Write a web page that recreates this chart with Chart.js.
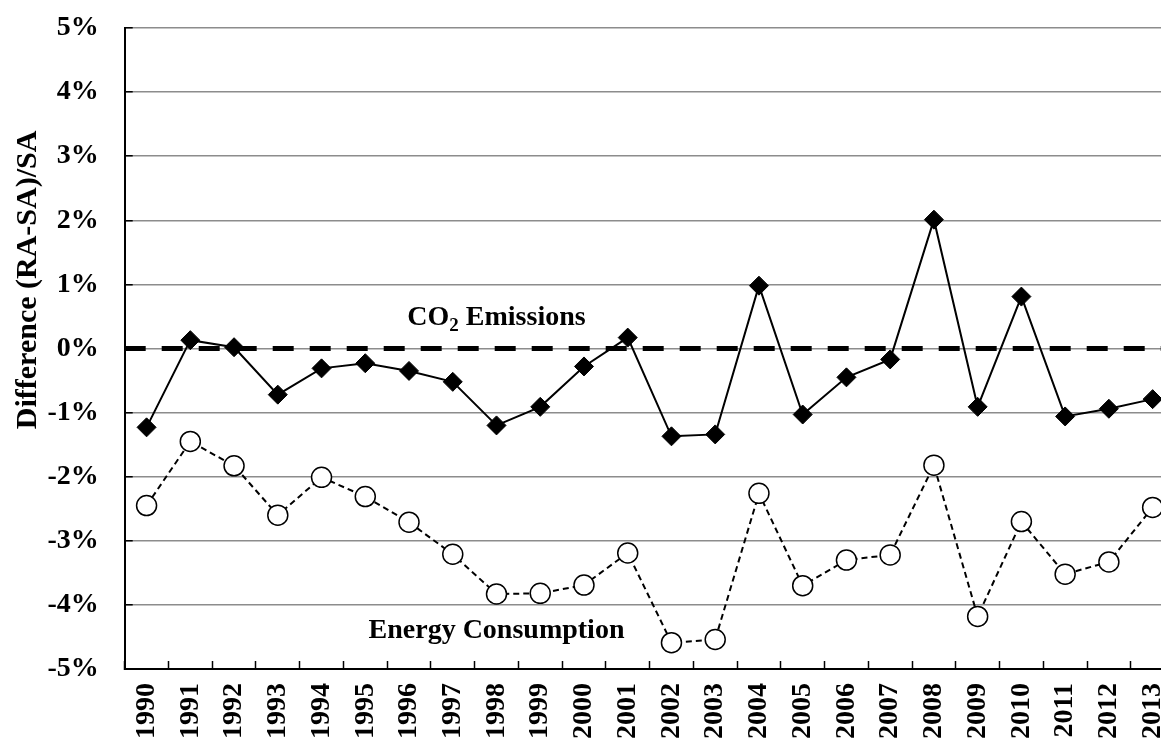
<!DOCTYPE html>
<html>
<head>
<meta charset="utf-8">
<script src="https://cdn.jsdelivr.net/npm/chart.js@4.4.1/dist/chart.umd.min.js"></script>
<style>
  html, body { margin: 0; padding: 0; background: #fff; overflow: hidden; }
  #wrap { width: 1186px; height: 742px; }
</style>
</head>
<body>
<div id="wrap"><canvas id="chart" width="1186" height="742"></canvas></div>
<script>
const years = ['1990', '1991', '1992', '1993', '1994', '1995', '1996', '1997', '1998', '1999', '2000', '2001',
               '2002', '2003', '2004', '2005', '2006', '2007', '2008', '2009', '2010', '2011', '2012', '2013'];

// (RA-SA)/SA in percent
const co2Diff = [-1.23, 0.13, 0.02, -0.72, -0.31, -0.23, -0.35, -0.52, -1.20, -0.91, -0.28, 0.17,
                 -1.37, -1.34, 0.98, -1.03, -0.45, -0.17, 2.01, -0.91, 0.81, -1.06, -0.94, -0.79];
const energyDiff = [-2.45, -1.45, -1.83, -2.60, -2.01, -2.31, -2.71, -3.21, -3.83, -3.82, -3.69, -3.19,
                    -4.59, -4.54, -2.26, -3.70, -3.30, -3.22, -1.82, -4.18, -2.70, -3.52, -3.33, -2.48];
const zeroLine = [{ x: 0, y: 0 }, { x: 1, y: 0 }];

const yMin = -5;
const yMax = 5;
const yTitle = 'Difference (RA-SA)/SA';

const FONT = "'Liberation Serif', 'Times New Roman', serif";

// axis title and inline labels for the two series
const chartTexts = {
    id: 'chartTexts',
    afterDatasetsDraw(chart) {
        const ctx = chart.ctx;
        const xs = chart.scales.x;
        const ys = chart.scales.y;
        ctx.save();
        ctx.fillStyle = '#000';
        ctx.textBaseline = 'middle';

        // y axis title, placed a little above the middle of the axis
        ctx.save();
        ctx.translate(28, ys.getPixelForValue(1.07));
        ctx.rotate(-Math.PI / 2);
        ctx.textAlign = 'center';
        ctx.font = 'bold 30px ' + FONT;
        ctx.fillText(yTitle, 0, 0);
        ctx.restore();

        // CO2 Emissions with subscript
        ctx.textAlign = 'left';
        const big = 'bold 28px ' + FONT;
        const small = 'bold 19px ' + FONT;
        ctx.font = big;
        const wCO = ctx.measureText('CO').width;
        const wRest = ctx.measureText(' Emissions').width;
        ctx.font = small;
        const w2 = ctx.measureText('2').width;
        const cx = xs.getPixelForValue(8);
        const cy = ys.getPixelForValue(0.48);
        const x0 = cx - (wCO + w2 + wRest) / 2;
        ctx.font = big;
        ctx.fillText('CO', x0, cy);
        ctx.font = small;
        ctx.fillText('2', x0 + wCO, cy + 8);
        ctx.font = big;
        ctx.fillText(' Emissions', x0 + wCO + w2, cy);

        ctx.textAlign = 'center';
        ctx.fillText('Energy Consumption', xs.getPixelForValue(8), ys.getPixelForValue(-4.41));
        ctx.restore();
    }
};

new Chart(document.getElementById('chart'), {
    type: 'line',
    data: {
        labels: years,
        datasets: [
            {
                label: 'CO2 Emissions',
                data: co2Diff,
                borderColor: '#000',
                borderWidth: 2,
                backgroundColor: '#000',
                pointStyle: 'rectRot',
                pointRadius: 9.5,
                pointBorderWidth: 1,
                pointBackgroundColor: '#000',
                pointBorderColor: '#000',
                tension: 0
            },
            {
                label: 'Energy Consumption',
                data: energyDiff,
                borderColor: '#000',
                borderWidth: 2,
                borderDash: [6, 4],
                pointStyle: 'circle',
                pointRadius: 10,
                pointBorderWidth: 1.5,
                pointBackgroundColor: '#fff',
                pointBorderColor: '#000',
                tension: 0
            },
            {
                label: 'zero',
                data: zeroLine,
                xAxisID: 'x2',
                borderColor: '#000',
                borderWidth: 5,
                borderDash: [21, 16],
                pointRadius: 0,
                parsing: { xAxisKey: 'x', yAxisKey: 'y' }
            }
        ]
    },
    options: {
        responsive: false,
        animation: false,
        layout: { padding: { top: 28, right: 3, left: 0, bottom: 0 } },
        plugins: {
            legend: { display: false },
            tooltip: { enabled: false }
        },
        scales: {
            x: {
                type: 'category',
                offset: true,
                grid: {
                    offset: true,
                    drawOnChartArea: false,
                    drawTicks: true,
                    tickLength: -8,
                    tickColor: '#000',
                    tickWidth: 1.5
                },
                border: { color: '#000', width: 2 },
                ticks: {
                    minRotation: 90,
                    maxRotation: 90,
                    autoSkip: false,
                    padding: 22,
                    color: '#000',
                    font: { family: FONT, size: 28, weight: 'bold' }
                },
                afterFit(scale) {
                    scale.height = 73;
                    scale.paddingLeft = 0;
                    scale.paddingRight = 0;
                    scale.paddingTop = 0;
                    scale.paddingBottom = 0;
                }
            },
            x2: {
                type: 'linear',
                display: false,
                min: 0,
                max: 1
            },
            y: {
                min: yMin,
                max: yMax,
                ticks: {
                    stepSize: 1,
                    padding: 34,
                    color: '#000',
                    font: { family: FONT, size: 28, weight: 'bold' },
                    callback: v => v + '%'
                },
                grid: {
                    color: '#8c8c8c',
                    lineWidth: 1.5,
                    drawTicks: true,
                    tickLength: -8,
                    tickColor: '#000',
                    tickWidth: 1.5
                },
                border: { color: '#000', width: 2 },
                afterFit(scale) {
                    scale.width = 124.7;
                    scale.paddingLeft = 0;
                    scale.paddingRight = 0;
                    scale.paddingTop = 0;
                    scale.paddingBottom = 0;
                }
            }
        }
    },
    plugins: [chartTexts]
});
</script>
</body>
</html>
